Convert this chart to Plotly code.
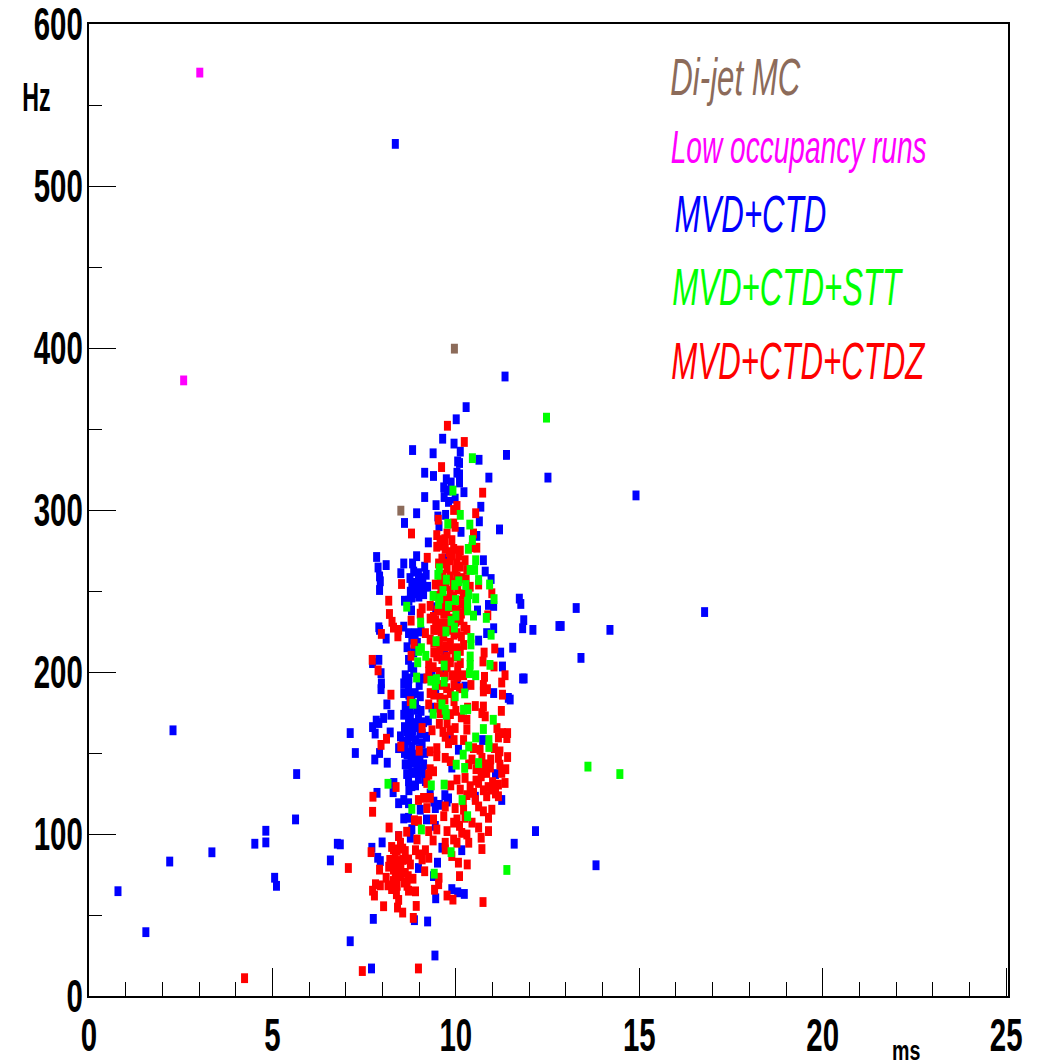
import json
import plotly.graph_objects as go

blue = [(10.28,363.5),(10.01,356),(9.64,344),(9.95,341),(8.82,337),(9.38,335),(10.12,336),(10.63,331),(11.38,334),(10.05,330),(10.1,329),(9.15,323),(9.39,321),(10.03,323),(10.1,322),(10.9,320),(12.51,320),(9.74,319),(9.87,317),(10.1,317),(9.67,314),(9.77,312),(10.22,311),(9.15,308),(9.68,308),(9.8,305),(9.98,307),(9.46,303),(10.68,302),(8.93,298),(9.51,296),(9.72,297),(10.64,293),(8.6,292),(11.19,288),(9.54,290),(10.14,286.5),(10.57,284),(9.25,280),(7.84,271),(7.88,264.5),(8.1,266),(8.93,271.5),(8.58,267),(8.82,267),(7.92,259),(7.94,256),(7.92,250.6),(8.5,261),(9.15,265),(8.85,262),(8.98,261),(9.19,260),(10.75,269),(10.8,262),(10.96,257.4),(8.8,252.6),(8.94,253.7),(9.08,253.7),(8.76,249.6),(8.9,248.6),(9.03,249.6),(8.99,246.5),(9.23,252.6),(8.6,244),(8.79,238),(11.73,245.3),(11.77,242),(11.85,232),(11.82,227),(12.1,226),(12.81,228.4),(10.89,241.4),(11.03,240.8),(10.59,238),(7.9,227.6),(7.92,226),(8.1,220.6),(8.58,228),(8.71,224),(8.89,224),(8.8,220),(8.67,215.3),(8.71,207.5),(11.03,227),(10.84,224),(10.62,219.4),(11.55,215),(11.22,212),(11.27,203.4),(11.86,196),(11.82,196),(11.03,187),(11.43,184),(11.48,183),(7.9,207.5),(7.73,205.5),(7.96,199.3),(7.97,193),(7.96,189.4),(8.62,198),(8.58,193),(8.58,187),(8.71,191),(8.89,187),(9.03,185),(10.03,192),(10.25,191),
(8.12,180),(8.23,173.6),(7.83,170),(8.03,171.6),(7.73,166),(7.9,168.5),(7.8,162),(8.21,162.7),(7.12,162.3),(7.26,150),(7.92,150),(7.79,146),(8.13,144),(8.62,179),(8.8,183),(8.58,173.6),(8.76,173.6),(8.94,176.7),(8.71,168.5),(8.85,168.5),(8.67,163.3),(8.49,160.3),(8.8,160.3),(9.03,162.3),(8.62,155),(8.44,153),(8.8,154),(9.08,156),(8.67,149),(8.9,149),(8.71,142.8),(8.94,142.8),(8.8,137.7),(9.03,139.7),(8.71,132.6),(8.8,129.5),(9.17,132.6),(8.31,131.5),(8.29,125.8),(7.85,125.4),(8.44,119),(8.58,121),(8.71,119),(9.03,115),(9.44,116),(9.76,120),(9.8,122),(8.58,109.6),(8.71,110),(9.2,109),(9.44,105),(8.8,103),(8.76,97.7),(8.44,98.7),(7.99,94.8),(7.71,91.5),(7.87,85.3),(7.94,83.3),(9.62,91.5),(10.16,90),(9.5,82.3),(8.98,79),(12.17,101.8),(11.59,94),(11.25,121),(11.08,137),(10.53,123),(10.73,158),(10.07,152),(9.85,158),(9.89,141),(6.85,93.6),(9.89,66),(10.05,64),(10.23,63),(9.45,60.3),(8.87,46.8),(9.23,46),(7.75,47.6),(7.12,33.8),(9.43,25),(7.7,17),(9.39,74),
(8.35,526),(11.34,382.4),(14.91,309),(16.78,237),(14.2,226),(13.28,239.5),(12.87,228.4),(13.41,208.7),(2.29,164),(5.66,137),(5.63,109),(4.82,102),(4.82,94.8),(4.52,94),(6.77,94),(6.58,83.7),(3.35,88.7),(2.2,83),(0.79,64.7),(1.55,39.4),(5.06,73),(5.11,68),(13.82,80.7),
(8.75,258),(8.85,255),(9.0,256),(9.1,258),(8.8,246),(8.95,251),(9.12,248),(8.72,244),(8.85,212),(8.78,203),(8.95,218),(9.05,225),(8.72,196),(8.85,200),(9.0,192),(9.1,196),(8.75,184),(8.68,178),(8.72,186),(8.9,180),(8.98,171),(9.05,176),(9.12,169),(8.75,176),(8.83,164),(8.95,166),(9.08,162),(8.6,166),(8.55,157),(8.7,158),(8.9,158),(9.0,152),(9.15,150),(8.6,150),(8.75,150),(8.85,146),(9.02,146),(9.12,143),(8.62,143),(8.78,144),(8.88,138),(8.98,134),(8.66,137),(8.72,127),(8.9,130),(9.1,138),(9.3,125),(9.4,120),(9.55,118),(9.7,124),(9.2,160),(9.25,170),(9.35,178),(9.45,190),(9.6,200),(9.7,212),(9.35,200),(9.45,240),(9.6,250),(9.7,270)]

red = [(9.77,352),(10.23,342),(9.61,326.5),(10.73,310.7),(10.03,302.5),(9.94,300),(10.54,298),(9.52,294),(9.94,291.7),(8.79,285.5),(9.48,284.5),(9.57,281.4),(9.48,277.3),(9.76,285.5),(9.89,281.4),(9.98,289.6),(9.71,276),(9.94,276),(10.48,285.5),(10.57,276.7),(10.12,275),(10.44,277),(9.22,270.5),(9.85,269),(10.03,267),(10.25,269),(9.76,264),(9.98,263),(10.3,263),(9.53,267),(9.85,259),(8.52,254.3),(9.44,254),(9.57,256),(10.03,259),(10.62,254),(10.39,252.6),(8.17,244),(10.98,248.6),(9.3,240.8),(9.57,244.4),(9.94,246.5),(10.16,242),(10.03,238),(9.67,236),(9.39,234),(9.08,239.3),(9.03,236),(8.19,235.8),(10.87,235),(8.78,231.7),(8.26,231),(9.3,233),(9.57,230),(9.85,228),(10.12,232),(10.3,226),(9.48,226),(10.03,224),(9.67,222),(9.17,224),(9.3,220),(9.85,218),(8.44,226),(8.3,227.4),(7.97,223.5),(8.42,222),(8.86,217.4),(9.57,213.7),(10.03,214.7),(10.21,216.7),(9.76,209.6),(9.48,209.6),(9.98,209.6),(11.06,214.5),(7.72,207.5),(8.78,210),(7.88,201),(10.77,212),(10.74,206.5),(11.04,203.4),(9.26,205.5),(9.26,200.3),(9.21,196),(9.89,198),(10.21,198),(9.76,203),(10.12,205.5),(11.34,198),(10.78,197),(11.25,193.5),(10.75,192),(10.86,189.4),(10.75,188),(10.41,192),(11.27,186),(8.23,186),(9.3,187),(9.85,187),(9.57,184),
(8.76,182),(9.26,180),(9.57,174.6),(9.76,168.5),(9.98,165.4),(9.08,165.4),(9.35,164),(9.71,160),(9.8,156),(9.3,151),(9.48,153),(9.48,148),(9.0,151.4),(8.5,154),(8.11,158.8),(7.96,155),(10.53,179),(10.75,178.7),(10.71,174.6),(10.8,172.6),(11.24,176),(10.3,170.5),(10.3,164.4),(10.21,158),(11.12,165.4),(11.27,162.3),(11.41,162.3),(11.16,159.6),(11.39,159.2),(10.48,153),(10.66,152),(10.44,146),(10.71,147),(11.2,151),(11.16,147),(11.41,147.5),(11.2,142.8),(11.36,140),(10.94,141),(10.84,137.7),(10.71,137.7),(11.25,137.7),(9.71,147),(9.85,145),(9.3,140),(9.39,138.7),(9.26,136.7),(9.21,131.5),(8.37,129),(9.86,130),(10.03,133.6),(10.25,134.6),(10.12,127.4),(10.39,129.5),(10.48,125.4),(10.62,131.5),(10.69,135.6),(11.34,131.5),(11.16,130.5),(10.98,127.4),(11.16,123.3),(10.84,123.3),(7.74,123),(7.73,113.7),(8.98,121),(9.12,122.3),(9.3,122.3),(9.21,116),(9.71,117),(9.67,111),(9.98,116),(10.21,115),(10.53,121),(10.62,117),(10.75,114),(10.98,115),(10.89,110),(8.87,108.5),(8.98,108),(9.39,109),(8.18,104),(8.66,101.4),(9.94,107),(10.03,109),(10.44,107),(10.62,104),(10.69,97.7),(10.89,101.8),(8.94,96.6),(9.26,101.8),(9.48,102.8),(9.76,101.8),(9.38,96),(9.94,96.6),(10.16,100.7),(10.3,99.7),(10.35,94.6),(10.03,94.6),(9.71,94.6),(9.71,90.5),(8.44,98.7),(8.49,94.6),(10.71,90.7),(7.69,88.8),(8.3,90.5),(8.35,86.4),(8.62,89.5),(8.99,87.4),(9.17,90),(9.08,84.3),(9.26,85.3),(8.71,84.3),(8.49,83.3),(8.76,81.2),(9.89,86.4),(10.07,82.3),(10.31,81.2),(7.07,79),(7.92,78),(8.17,79.8),(8.3,78),(8.44,77),(8.62,76),(8.49,74),(8.3,71),(9.15,77),(10.1,74),(8.83,72.4),(9.54,73),(9.53,69),(7.94,68.3),(7.81,69),(8.15,68.3),(8.4,68),(7.73,65),(7.78,62),(8.67,68),(8.71,65),(8.9,64.6),(8.38,62.8),(9.42,65.6),(9.76,62),(9.92,59.5),(10.74,58),(8.44,59.3),(8.03,55.4),(8.41,54.6),(8.55,51.5),(8.92,55.6),(8.84,48.2),(7.45,15.4),(8.98,17),(4.24,11),
(9.6,278),(9.7,282),(9.82,274),(9.62,270),(9.72,267),(9.9,272),(10.12,265),(10.08,272),(9.65,260),(9.92,255),(10.15,258),(10.28,257),(9.6,250),(9.72,253),(9.85,250),(10.05,251),(10.2,248),(9.45,247),(9.65,244),(9.78,245),(10.05,244),(9.5,238),(9.62,240),(9.75,236),(9.9,240),(10.15,236),(10.25,240),(9.45,232),(9.7,230),(9.9,233),(10.0,231),(10.22,228),(9.4,226),(9.6,225),(9.78,226),(9.95,223),(10.15,222),(9.4,218),(9.55,219),(9.72,216),(9.9,214),(10.12,213),(9.4,212),(9.62,208),(9.85,206),(10.05,203),(9.38,203),(9.55,200),(9.7,197),(10.05,197),(9.4,195),(9.6,192),(9.75,190),(9.95,192),(10.1,190),(9.4,186),(9.7,183),(9.95,182),(9.5,178),(9.65,175),(9.85,174),(10.0,176),(9.55,168),(9.85,164),(10.15,172),(10.32,178),(9.65,163),(9.95,158),(10.35,143),(10.55,140),(10.6,143),(10.8,143),(10.95,146),(11.05,153),(11.0,132),(10.88,129),(10.75,127),(11.08,125),(10.55,133),(10.3,124),(10.2,120),(10.25,110),(10.1,105),(8.35,81),(8.4,90),(8.55,84),(8.2,84),(8.35,74),(8.6,70),(8.1,73),(8.25,66),(8.5,80),(8.7,74),(8.25,92),(8.55,91),(8.9,90)]

green = [(12.47,357),(10.45,332),(9.92,312),(10.12,297),(9.78,291.5),(10.38,291),(10.45,281.4),(10.34,276),(10.54,269),(9.55,264),(9.51,260),(10.39,263),(10.51,263),(9.74,257),(10.62,256.8),(9.97,253.7),(10.08,256),(10.27,253.7),(10.92,254),(9.65,250),(9.38,247),(9.56,245.5),(9.99,244.4),(10.35,248),(10.54,245.5),(11.04,245),(9.53,242),(9.8,240.8),(10.32,243.4),(10.32,238),(8.66,240.3),(10.0,234.8),(10.48,234.8),(10.83,233.4),(9.04,230.5),(9.87,231.5),(9.96,227.4),(9.73,225),(10.96,223),(9.46,219),(10.41,221),(10.41,217),(9.06,214.7),(8.99,213),(9.18,210),(10.04,210),(10.39,209.6),(8.96,206),(10.39,204.4),(9.68,204),(10.93,204.4),(10.37,199.3),(10.54,198),(8.93,196.6),(9.32,194.6),(9.47,195.6),(9.44,192),(9.68,194),(10.24,186.8),(9.98,185),(8.83,180.4),(9.62,180),(9.71,176.7),(9.38,174.2),(9.74,173.6),(10.21,176.7),(10.32,177),(11.02,170.5),(10.75,164.8),(10.54,159.6),(10.9,158),(10.9,153.7),(10.35,154),(10.2,149),(10.62,143.8),(10.01,142.8),(10.24,140.8),(8.15,131),(9.68,130.5),(9.33,130),(10.17,121),(8.8,115.5),(10.32,111),(9.06,102.8),(9.87,88.8),(9.41,75.5),(11.39,77.8),(13.6,141.6),(14.47,137)]

magenta = [(3.02,570),(2.58,380)]
brown = [(9.96,399.6),(8.5,299.6)]

series_names = ["MVD+CTD", "MVD+CTD+CTDZ", "MVD+CTD+STT", "Low occupancy runs", "Di-jet MC"]
series_data = [blue, red, green, magenta, brown]
series_colors = ["#0000ff", "#ff0000", "#00ff00", "#ff00ff", "#8c6b5a"]

legend_labels = ["Di-jet MC", "Low occupancy runs", "MVD+CTD", "MVD+CTD+STT", "MVD+CTD+CTDZ"]
legend_colors = ["#8c6b5a", "#ff00ff", "#0000ff", "#00ff00", "#ff0000"]
legend_x = [0.7036, 0.7722, 0.7194, 0.7608, 0.7727]
legend_y = [0.9455, 0.8735, 0.8045, 0.7294, 0.6533]
legend_size = [52, 46, 52, 52, 52]

FONT = "Liberation Sans, sans-serif"
TEXT_SCALE = [0.6, 0.61, 0.6, 0.6, 0.6, 0.58, 0.7]
TICK_SCALE = 0.64

fig = go.Figure()
for name, data, color in zip(series_names, series_data, series_colors):
    fig.add_trace(go.Scatter(
        x=[p[0] for p in data], y=[p[1] for p in data], mode="markers", name=name,
        marker=dict(symbol="line-ns", size=7, color=color, line=dict(color=color, width=7)),
        cliponaxis=False,
    ))

for text, color, x, y, size in zip(legend_labels, legend_colors, legend_x, legend_y, legend_size):
    fig.add_annotation(xref="paper", yref="paper", x=x, y=y, xanchor="center", yanchor="middle",
                       text=text, showarrow=False,
                       font=dict(family=FONT, size=size, color=color, style="italic"))

fig.add_annotation(xref="paper", yref="paper", x=-0.0571, y=0.9249, text="Hz", showarrow=False,
                   xanchor="center", yanchor="middle", font=dict(family=FONT, size=40, color="black", weight=700))
fig.add_annotation(xref="paper", yref="paper", x=0.8890, y=-0.0556, text="ms", showarrow=False,
                   xanchor="center", yanchor="middle", font=dict(family=FONT, size=28, color="black", weight=700))

fig.update_layout(
    width=1041, height=1062, showlegend=False,
    margin=dict(l=88.5, r=33, t=24, b=66, pad=0),
    paper_bgcolor="white", plot_bgcolor="white",
)
tick_font = dict(family=FONT, size=46, color="black", weight=700)
fig.update_xaxes(range=[0, 25.05], tick0=0, dtick=5, ticks="inside", ticklen=28, tickwidth=1, tickcolor="black",
                 showgrid=False, zeroline=False, showline=True, linecolor="black", linewidth=2, mirror=True,
                 automargin=False, tickfont=tick_font, ticklabelstandoff=-2, ticklabeloverflow="allow",
                 minor=dict(dtick=1, ticks="inside", ticklen=14, tickwidth=1, tickcolor="black", showgrid=False))
fig.update_yaxes(range=[0, 600], tick0=0, dtick=100, ticks="inside", ticklen=27, tickwidth=1, tickcolor="black",
                 showgrid=False, zeroline=False, showline=True, linecolor="black", linewidth=2, mirror=True,
                 automargin=False, tickfont=tick_font, ticklabelstandoff=-5, ticklabeloverflow="allow",
                 minor=dict(dtick=50, ticks="inside", ticklen=13, tickwidth=1, tickcolor="black", showgrid=False))

post = """
document.body.style.margin='0';document.body.style.overflow='hidden';
var S=%s, T=%s;
function squeeze(el,k){ if(el.dataset.sq) return; var w=el.getComputedTextLength(); if(!w) return;
  el.setAttribute('textLength',w*k); el.setAttribute('lengthAdjust','spacingAndGlyphs'); el.dataset.sq='1'; }
function applyAll(){
  document.querySelectorAll('.annotation-text').forEach(function(el,i){squeeze(el,S[i]);});
  document.querySelectorAll('.xtick text, .ytick text').forEach(function(el){squeeze(el,T);});
}
applyAll(); setTimeout(applyAll,50); setTimeout(applyAll,300);
""" % (json.dumps(TEXT_SCALE), json.dumps(TICK_SCALE))

fig.write_html("out.html", config=dict(displayModeBar=False), post_script=post)
